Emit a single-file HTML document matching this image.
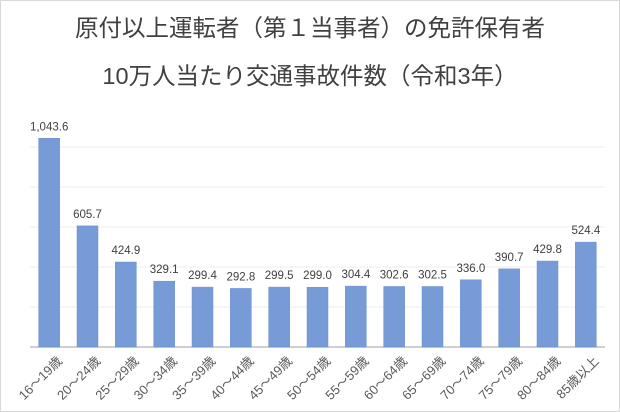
<!DOCTYPE html>
<html><head><meta charset="utf-8"><style>
html,body{margin:0;padding:0;background:#fff}
svg{display:block;font-family:"Liberation Sans","Noto Sans CJK JP",sans-serif}
</style></head><body>
<svg id="c" width="620" height="412">
<rect x="0.5" y="0.5" width="619" height="411" fill="#fff" stroke="#d9d9d9"/>
<text x="310" y="36" text-anchor="middle" font-size="23.5" fill="#404040">原付以上運転者（第１当事者）の免許保有者</text>
<text x="310" y="84" text-anchor="middle" font-size="23.5" fill="#404040">10万人当たり交通事故件数（令和3年）</text>
<g id="grid"></g><g id="bars"></g><g id="xl"></g>
</svg>
<script>
const categories=["16～19歳","20～24歳","25～29歳","30～34歳","35～39歳","40～44歳","45～49歳","50～54歳","55～59歳","60～64歳","65～69歳","70～74歳","75～79歳","80～84歳","85歳以上"];
const values=[1043.6,605.7,424.9,329.1,299.4,292.8,299.5,299.0,304.4,302.6,302.5,336.0,390.7,429.8,524.4];
const labels=["1,043.6","605.7","424.9","329.1","299.4","292.8","299.5","299.0","304.4","302.6","302.5","336.0","390.7","429.8","524.4"];
const gridVals=[200,400,600,800,1000];
const NS="http://www.w3.org/2000/svg";
const x0=30,x1=605,y0=347,pxPer=40/200;
const band=(x1-x0)/categories.length,bw=21;
const y=v=>y0-v*pxPer;
const xc=i=>x0+band*(i+0.5);
function mk(t,a,p){const e=document.createElementNS(NS,t);for(const k in a)e.setAttribute(k,a[k]);p.appendChild(e);return e;}
const g=document.getElementById('grid'),b=document.getElementById('bars'),xl=document.getElementById('xl');
gridVals.forEach(v=>{const l=mk('line',{x1:x0,x2:x1,y1:y(v),y2:y(v),stroke:'#eeeeee','stroke-width':1},g);

});
values.forEach((v,i)=>{
const r=mk('rect',{x:xc(i)-bw/2,y:y(v),width:bw,height:y0-y(v),fill:'#779bd7',stroke:'#6a8fd0','stroke-width':0.5},b);


const t=mk('text',{x:xc(i),y:y(v)-8,'text-anchor':'middle','font-size':11.5,fill:'#404040'},b);t.textContent=labels[i];


const c=mk('text',{x:xc(i)+7,y:355,'text-anchor':'end','font-size':13,fill:'#595959',transform:`rotate(-45 ${xc(i)+7} 355)`,'dominant-baseline':'hanging'},xl);c.textContent=categories[i];


});
const ax=mk('line',{x1:x0,x2:x1,y1:y0,y2:y0,stroke:'#bfbfbf','stroke-width':1.5},g);


</script>
</body></html>
